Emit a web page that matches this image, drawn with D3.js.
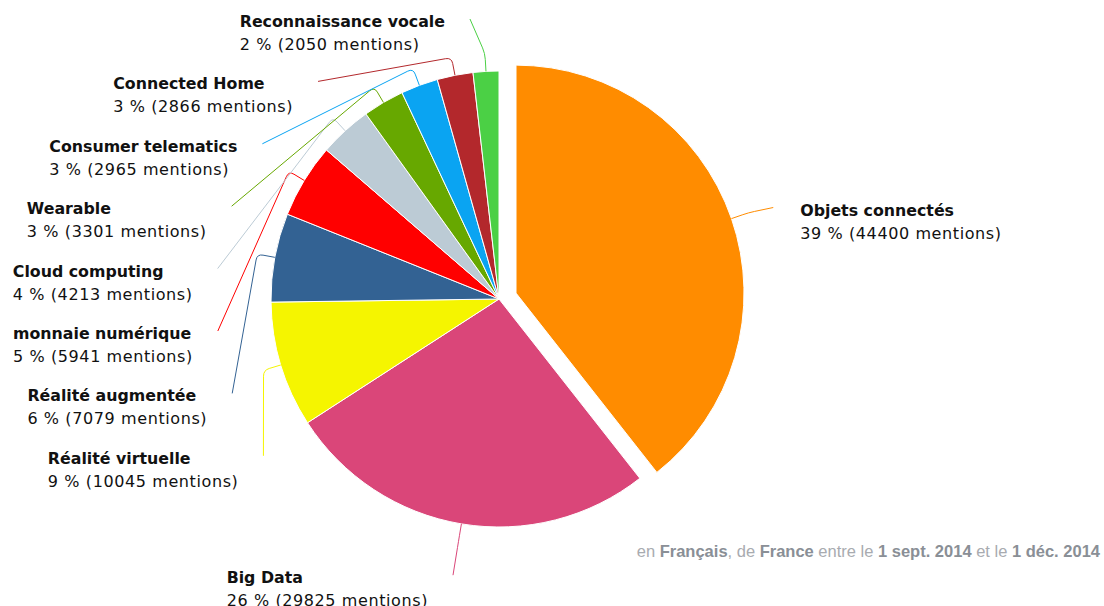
<!DOCTYPE html>
<html>
<head>
<meta charset="utf-8">
<script src="https://cdn.jsdelivr.net/npm/d3@7"></script>
<style>
  body { margin: 0; background: #fff; }
  svg { display: block; }
</style>
</head>
<body>
<div id="chart"></div>
<script>
var width = 1104;
var height = 606;

// data
var labels = ['Objets connectés', 'Big Data', 'Réalité virtuelle', 'Réalité augmentée',
              'monnaie numérique', 'Cloud computing', 'Wearable', 'Consumer telematics',
              'Connected Home', 'Reconnaissance vocale'];
var values = [44400, 29825, 10045, 7079, 5941, 4213, 3301, 2965, 2866, 2050];
var colors = ['#ff8c00', '#da4679', '#f5f500', '#336293', '#ff0000', '#bccbd5',
              '#67a800', '#0aa4f2', '#b3282c', '#4bd045'];
var footer = [
  {t: 'en ', b: false}, {t: 'Français', b: true}, {t: ', de ', b: false},
  {t: 'France', b: true}, {t: ' entre le ', b: false}, {t: '1 sept. 2014', b: true},
  {t: ' et le ', b: false}, {t: '1 déc. 2014', b: true}
];

var data = labels.map(function(l, i) { return {label: l, value: values[i], color: colors[i]}; });
var total = d3.sum(values);

var cx = 499, cy = 299;
var radius = 228;
var labelRadius = 283;
var explode = 18;

var svg = d3.select('#chart').append('svg')
    .attr('width', width)
    .attr('height', height);

var g = svg.append('g')
    .attr('transform', 'translate(' + cx + ',' + cy + ')');

var pie = d3.pie()
    .sort(null)
    .value(function(d) { return d.value; });

var arc = d3.arc()
    .innerRadius(0)
    .outerRadius(radius);

var arcs = pie(data);

function mid(d) { return (d.startAngle + d.endAngle) / 2; }
function polar(a, r) { return [Math.sin(a) * r, -Math.cos(a) * r]; }

// label anchor points: two big slices at their own angle, the small ones stacked on the left
var step = 62.4;
arcs.forEach(function(d, i) {
  d.offset = i === 0 ? polar(mid(d), explode) : [0, 0];
  if (i < 2) {
    var p = polar(mid(d), i === 1 ? labelRadius - 4 : labelRadius);
    d.anchor = [p[0] + d.offset[0] * 0.4, p[1] + 1];
    d.side = Math.sin(mid(d)) > 0 ? 'right' : 'left';
  } else {
    var k = data.length - 1 - i;
    var y = -280 + k * step;
    var rr = k === 0 ? 281.5 : labelRadius;
    d.anchor = [-Math.sqrt(rr * rr - y * y), y];
    d.side = 'left';
  }
});

var slices = g.selectAll('g.slice')
    .data(arcs)
    .enter().append('g')
    .attr('class', 'slice')
    .attr('transform', function(d) { return 'translate(' + d.offset[0] + ',' + d.offset[1] + ')'; });

slices.append('path')
    .attr('d', arc)
    .attr('fill', function(d) { return d.data.color; })
    .attr('stroke', '#fff')
    .attr('stroke-width', 1);

// connectors
g.selectAll('path.connector')
    .data(arcs)
    .enter().append('path')
    .attr('class', 'connector')
    .attr('fill', 'none')
    .attr('stroke', function(d) { return d.data.color; })
    .attr('stroke-width', 1)
    .attr('d', function(d) {
      var a = mid(d);
      var p0 = polar(a, radius), p1 = polar(a, radius + 18);
      p0 = [p0[0] + d.offset[0], p0[1] + d.offset[1]];
      p1 = [p1[0] + d.offset[0], p1[1] + d.offset[1]];
      var q = d.anchor;
      var r = 6;
      var l1 = Math.hypot(p1[0] - p0[0], p1[1] - p0[1]);
      var l2 = Math.hypot(q[0] - p1[0], q[1] - p1[1]);
      var a1 = [p1[0] - (p1[0] - p0[0]) * r / l1, p1[1] - (p1[1] - p0[1]) * r / l1];
      var a2 = [p1[0] + (q[0] - p1[0]) * r / l2, p1[1] + (q[1] - p1[1]) * r / l2];
      return 'M' + p0 + 'L' + a1 + 'Q' + p1 + ' ' + a2 + 'L' + q;
    });

// labels
var lab = g.selectAll('g.label')
    .data(arcs)
    .enter().append('g')
    .attr('class', 'label')
    .attr('font-family', 'DejaVu Sans, Verdana, sans-serif')
    .attr('fill', '#111');

lab.append('text')
    .attr('class', 'l1')
    .attr('font-weight', 'bold')
    .attr('font-size', 15.8)
    .attr('y', function(d) { return d.anchor[1] + 8; })
    .text(function(d) { return d.data.label; });

lab.append('text')
    .attr('class', 'l2')
    .attr('font-size', 16)
    .attr('letter-spacing', 0.6)
    .attr('y', function(d) { return d.anchor[1] + 31; })
    .text(function(d) {
      return Math.round(d.data.value / total * 100) + ' % (' + d.data.value + ' mentions)';
    });

lab.each(function(d) {
  var sel = d3.select(this);
  var w = 0;
  sel.selectAll('text').each(function() { w = Math.max(w, this.getComputedTextLength()); });
  var x = d.side === 'left' ? d.anchor[0] - 25 - w : d.anchor[0] + 27;
  sel.selectAll('text').attr('x', x);
});

// footer note
var note = svg.append('text')
    .attr('x', 1100)
    .attr('y', 557)
    .attr('text-anchor', 'end')
    .attr('font-family', 'Liberation Sans Narrow, Liberation Sans, sans-serif')
    .attr('font-size', 16.5);

note.selectAll('tspan')
    .data(footer)
    .enter().append('tspan')
    .attr('fill', function(d) { return d.b ? '#8a8f96' : '#a8abb0'; })
    .attr('font-weight', function(d) { return d.b ? 'bold' : 'normal'; })
    .text(function(d) { return d.t; });
</script>
</body>
</html>
